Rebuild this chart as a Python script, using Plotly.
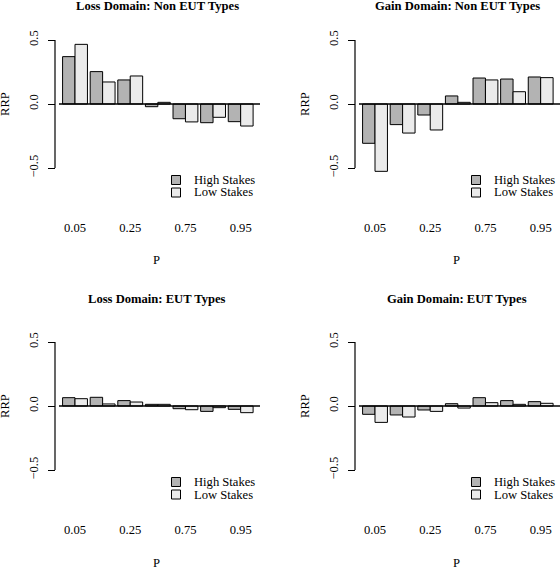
import plotly.graph_objects as go

# ---- data ----
probs = ["0.05", "0.1", "0.25", "0.5", "0.75", "0.9", "0.95"]
shown_probs = ["0.05", "0.25", "0.75", "0.95"]

titles = ["Loss Domain: Non EUT Types", "Gain Domain: Non EUT Types",
          "Loss Domain: EUT Types", "Gain Domain: EUT Types"]

loss_noneut_high = [0.37, 0.253, 0.188, -0.021, -0.115, -0.146, -0.138]
loss_noneut_low = [0.466, 0.172, 0.219, 0.013, -0.14, -0.104, -0.172]
gain_noneut_high = [-0.307, -0.161, -0.086, 0.063, 0.203, 0.195, 0.211]
gain_noneut_low = [-0.526, -0.227, -0.203, 0.013, 0.188, 0.096, 0.206]
loss_eut_high = [0.065, 0.068, 0.042, 0.013, -0.021, -0.042, -0.026]
loss_eut_low = [0.057, 0.016, 0.031, 0.013, -0.029, -0.013, -0.052]
gain_eut_high = [-0.065, -0.07, -0.031, 0.018, 0.065, 0.042, 0.034]
gain_eut_low = [-0.128, -0.086, -0.042, -0.016, 0.026, 0.013, 0.021]

panels = [
    (loss_noneut_high, loss_noneut_low),
    (gain_noneut_high, gain_noneut_low),
    (loss_eut_high, loss_eut_low),
    (gain_eut_high, gain_eut_low),
]
series_names = ["High Stakes", "Low Stakes"]
yticks = [-0.5, 0.0, 0.5]
ytick_text = ["\u22120.5", "0.0", "0.5"]

# ---- styling ----
W, H = 560, 567
FONT = "Liberation Serif"
FS = 12.6
HIGH_COL = "#B3B3B3"
LOW_COL = "#EBEBEB"
PX_PER_UNIT = 128.0

def px(xp):
    return xp / W

def py(yp):
    return 1 - yp / H

fig = go.Figure()
layout = dict(
    width=W, height=H, margin=dict(l=0, r=0, t=0, b=0),
    paper_bgcolor="white", plot_bgcolor="white",
    barmode="group", bargap=0.1, bargroupgap=0,
    showlegend=False, font=dict(family=FONT, size=FS, color="black"),
)
shapes = []
annotations = []

for i, (hs, ls) in enumerate(panels):
    col = i % 2
    row = i // 2
    dx = 300 * col
    dy = 302 * row
    zero_px = 104 + dy
    top_px = 25 + dy
    bot_px = 214 + dy
    x_left, x_right = 59 + dx, 260 + dx
    axis_px = 55 + dx
    n = "" if i == 0 else str(i + 1)
    xa, ya = "x" + n, "y" + n

    for vals, name, color in zip((hs, ls), series_names, (HIGH_COL, LOW_COL)):
        fig.add_trace(go.Bar(
            x=probs, y=vals, name=name, xaxis=xa, yaxis=ya,
            marker=dict(color=color, line=dict(color="black", width=1)),
        ))

    layout["xaxis" + n] = dict(
        domain=[px(x_left), min(px(x_right), 1.0)],
        anchor=ya, type="category", categoryorder="array", categoryarray=probs,
        range=[-0.58, 6.70], showgrid=False, zeroline=False, showline=False,
        ticks="", tickmode="array", tickvals=shown_probs, ticktext=shown_probs,
        tickfont=dict(family=FONT, size=FS, color="black"), ticklabelstandoff=4,
    )
    layout["yaxis" + n] = dict(
        domain=[py(bot_px), py(top_px)], anchor="free", position=px(axis_px),
        range=[(zero_px - bot_px) / PX_PER_UNIT, (zero_px - top_px) / PX_PER_UNIT],
        showgrid=False, zeroline=False, showline=False,
        ticks="outside", ticklen=7, tickwidth=1, tickcolor="black",
        tickmode="array", tickvals=yticks, ticktext=ytick_text, tickangle=-90,
        tickfont=dict(family=FONT, size=FS, color="black"), ticklabelstandoff=5,
    )
    # y axis line between extreme ticks
    shapes.append(dict(type="line", xref="paper", yref=ya,
                       x0=px(axis_px), x1=px(axis_px), y0=-0.5, y1=0.5,
                       line=dict(color="black", width=1.2)))
    # zero reference line
    shapes.append(dict(type="line", xref=xa + " domain", yref=ya,
                       x0=0, x1=1, y0=0, y1=0,
                       line=dict(color="black", width=1.3)))
    # title
    annotations.append(dict(text="<b>" + titles[i] + "</b>", xref="paper", yref="paper",
                            x=px(157 + dx), y=py(6 + (293 if row else 0)),
                            xanchor="center", yanchor="middle", showarrow=False,
                            font=dict(family=FONT, size=FS, color="black")))
    # axis titles
    annotations.append(dict(text="P", xref="paper", yref="paper",
                            x=px(156 + dx), y=py(260.5 + dy),
                            xanchor="center", yanchor="middle", showarrow=False,
                            font=dict(family=FONT, size=FS, color="black")))
    annotations.append(dict(text="RRP", xref="paper", yref="paper",
                            x=px(5 + dx), y=py(104 + dy), textangle=-90,
                            xanchor="center", yanchor="middle", showarrow=False,
                            font=dict(family=FONT, size=FS, color="black")))
    # legend
    for k, (name, color) in enumerate(zip(series_names, (HIGH_COL, LOW_COL))):
        cy = 180 + 12.5 * k + dy
        cx = 176 + dx
        shapes.append(dict(type="rect", xref="paper", yref="paper",
                           x0=px(cx - 4.5), x1=px(cx + 4.5),
                           y0=py(cy + 4.5), y1=py(cy - 4.5),
                           fillcolor=color, line=dict(color="black", width=1)))
        annotations.append(dict(text=name, xref="paper", yref="paper",
                                x=px(192 + dx), y=py(cy), xanchor="left", yanchor="middle",
                                showarrow=False,
                                font=dict(family=FONT, size=FS, color="black")))

layout["shapes"] = shapes
layout["annotations"] = annotations
fig.update_layout(**layout)
fig.write_html("out.html", config={"displayModeBar": False},
               post_script="document.body.style.margin='0';document.body.style.padding='0';")
